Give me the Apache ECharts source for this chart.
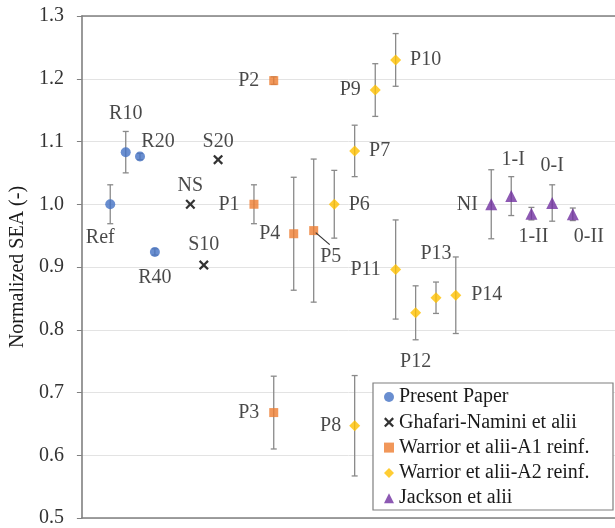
<!DOCTYPE html>
<html>
<head>
<meta charset="utf-8">
<script src="https://cdn.jsdelivr.net/npm/echarts@6/dist/echarts.min.js"></script>
<style>
html,body{margin:0;padding:0;background:#fff;}
#chart{width:615px;height:528px;}
</style>
</head>
<body>
<div id="chart"></div>
<script>
// ---- data ----
const yTicks = [0.5, 0.6, 0.7, 0.8, 0.9, 1.0, 1.1, 1.2, 1.3];

const presentNames = ['Ref', 'R10', 'R20', 'R40'];
const presentX = [1.39, 2.15, 2.85, 3.58];
const presentY = [1.000, 1.083, 1.076, 0.924];
const presentErr = [0.031, 0.033, 0.005, 0.005];

const ghafariNames = ['NS', 'S10', 'S20'];
const ghafariX = [5.32, 5.98, 6.68];
const ghafariY = [1.000, 0.903, 1.071];

const a1Names = ['P1', 'P2', 'P3', 'P4', 'P5'];
const a1X = [8.44, 9.41, 9.41, 10.39, 11.37];
const a1Y = [1.000, 1.197, 0.668, 0.953, 0.958];
const a1Err = [0.031, 0.006, 0.058, 0.090, 0.114];

const a2Names = ['P6', 'P7', 'P8', 'P9', 'P10', 'P11', 'P12', 'P13', 'P14'];
const a2X = [12.38, 13.38, 13.38, 14.39, 15.39, 15.39, 16.37, 17.37, 18.34];
const a2Y = [1.000, 1.085, 0.647, 1.182, 1.230, 0.896, 0.827, 0.851, 0.855];
const a2Err = [0.054, 0.041, 0.080, 0.042, 0.042, 0.079, 0.043, 0.025, 0.061];

const jacksonNames = ['NI', '1-I', '1-II', '0-I', '0-II'];
const jacksonX = [20.08, 21.06, 22.05, 23.07, 24.08];
const jacksonY = [1.000, 1.013, 0.985, 1.002, 0.984];
const jacksonErr = [0.055, 0.031, 0.010, 0.029, 0.010];

const seriesNames = ['Present Paper', 'Ghafari-Namini et alii', 'Warrior et alii-A1 reinf.', 'Warrior et alii-A2 reinf.', 'Jackson et alii'];
const yAxisTitle = 'Normalized SEA (-)';

// ---- layout / style (kept apart from data) ----
const labelOffsets = {
  'Ref': [-10, 33], 'R10': [0, -38], 'R20': [18, -15], 'R40': [0, 26],
  'NS': [0, -19], 'S10': [0, -20], 'S20': [0, -18],
  'P1': [-25, 0], 'P2': [-25, 0], 'P3': [-25, 0], 'P4': [-24, 0], 'P5': [17, 26],
  'P6': [25, 0], 'P7': [25, 0], 'P8': [-24, 0], 'P9': [-25, 0], 'P10': [30, 0],
  'P11': [-30, 0], 'P12': [0, 49], 'P13': [0, -44], 'P14': [31, 0],
  'NI': [-24, 0], '1-I': [2, -36], '1-II': [2, 23], '0-I': [0, -37], '0-II': [16, 22]
};
const FONT = '"Liberation Serif", "Times New Roman", serif';
const TXT = '#1a1a1a';
const FS = 20;
const crossPath = 'path://M0,1.6 L1.6,0 L5,3.4 L8.4,0 L10,1.6 L6.6,5 L10,8.4 L8.4,10 L5,6.6 L1.6,10 L0,8.4 L3.4,5 Z';

function points(names, xs, ys) {
  return names.map((n, i) => ({
    name: n,
    value: [xs[i], ys[i]],
    label: { offset: labelOffsets[n] || [0, 0] }
  }));
}
function errs(xs, ys, es) {
  return xs.map((x, i) => [x, ys[i], es[i]]);
}
const errData = [].concat(
  errs(presentX, presentY, presentErr),
  errs(a1X, a1Y, a1Err),
  errs(a2X, a2Y, a2Err),
  errs(jacksonX, jacksonY, jacksonErr)
);

const labelStyle = {
  show: true, position: 'inside', formatter: '{b}',
  fontFamily: FONT, fontSize: FS, color: TXT, align: 'center', verticalAlign: 'middle'
};

const chart = echarts.init(document.getElementById('chart'), null, { renderer: 'canvas' });
const legendBox = { type: 'rect', z: 3, shape: { x: 373, y: 383, width: 240, height: 127 },
  style: { fill: '#ffffff', stroke: '#7f7f7f', lineWidth: 1.2 } };
const option = {
  animation: false,
  backgroundColor: '#ffffff',
  grid: { left: 79, right: 0, top: 16, bottom: 9 },
  xAxis: [
    { type: 'value', min: 0, max: 26.15, position: 'bottom',
      axisLine: { show: true, lineStyle: { color: '#808080', width: 1.6 } },
      axisTick: { show: false }, axisLabel: { show: false }, splitLine: { show: false } },
    { type: 'value', min: 0, max: 26.15, position: 'top',
      axisLine: { show: true, lineStyle: { color: '#808080', width: 1.6 } },
      axisTick: { show: false }, axisLabel: { show: false }, splitLine: { show: false } }
  ],
  yAxis: {
    type: 'value', min: yTicks[0], max: yTicks[yTicks.length - 1], interval: 0.1,
    name: yAxisTitle, nameLocation: 'middle', nameGap: 52,
    nameTextStyle: { fontFamily: FONT, fontSize: FS, color: TXT },
    axisLine: { show: true, lineStyle: { color: '#808080', width: 1.6 } },
    axisTick: { show: true, length: 5, lineStyle: { color: '#808080' } },
    axisLabel: { margin: 18, fontFamily: FONT, fontSize: FS, color: '#333',
      formatter: v => v.toFixed(1) },
    splitLine: { show: true, lineStyle: { color: '#e3e3e3', width: 1 } }
  },
  legend: {
    orient: 'vertical', left: 384, top: 387, padding: 0,
    itemWidth: 10, itemHeight: 10, itemGap: 5.3,
    textStyle: { fontFamily: FONT, fontSize: FS, color: TXT, lineHeight: 20 },
    data: [
      { name: seriesNames[0], icon: 'circle' },
      { name: seriesNames[1], icon: crossPath },
      { name: seriesNames[2], icon: 'rect' },
      { name: seriesNames[3], icon: 'diamond' },
      { name: seriesNames[4], icon: 'triangle' }
    ]
  },
  graphic: [legendBox],
  series: [
    {
      type: 'custom', name: 'errors', z: 1, silent: true,
      data: errData,
      renderItem: function (params, api) {
        const x = api.value(0), y = api.value(1), e = api.value(2);
        const t = api.coord([x, y + e]);
        const b = api.coord([x, y - e]);
        const c = 3;
        const st = { stroke: '#8a8a8a', lineWidth: 1.3 };
        return { type: 'group', children: [
          { type: 'line', shape: { x1: t[0], y1: t[1], x2: b[0], y2: b[1] }, style: st },
          { type: 'line', shape: { x1: t[0] - c, y1: t[1], x2: t[0] + c, y2: t[1] }, style: st },
          { type: 'line', shape: { x1: b[0] - c, y1: b[1], x2: b[0] + c, y2: b[1] }, style: st }
        ] };
      }
    },
    { type: 'scatter', name: seriesNames[0], z: 5, symbol: 'circle', symbolSize: 10,
      itemStyle: { color: '#4472C4' }, label: labelStyle,
      data: points(presentNames, presentX, presentY) },
    { type: 'scatter', name: seriesNames[1], z: 5, symbol: crossPath, symbolSize: 10,
      itemStyle: { color: '#000000' }, label: labelStyle,
      data: points(ghafariNames, ghafariX, ghafariY) },
    { type: 'scatter', name: seriesNames[2], z: 5, symbol: 'rect', symbolSize: 9,
      itemStyle: { color: '#ED7D31' }, label: labelStyle,
      data: points(a1Names, a1X, a1Y) },
    { type: 'scatter', name: seriesNames[3], z: 5, symbol: 'diamond', symbolSize: 11,
      itemStyle: { color: '#FFC000' }, label: labelStyle,
      data: points(a2Names, a2X, a2Y) },
    { type: 'scatter', name: seriesNames[4], z: 5, symbol: 'triangle', symbolSize: 12,
      itemStyle: { color: '#7030A0' }, label: labelStyle,
      data: points(jacksonNames, jacksonX, jacksonY) }
  ]
};
chart.setOption(option);

// leader line for P5 label, anchored via the chart's own coordinate conversion
const p5i = a1Names.indexOf('P5');
const p5 = chart.convertToPixel({ gridIndex: 0 }, [a1X[p5i], a1Y[p5i]]);
chart.setOption({
  graphic: [
    legendBox,
    { type: 'line', z: 6, shape: { x1: p5[0] + 2, y1: p5[1] + 2, x2: p5[0] + 16, y2: p5[1] + 14 },
      style: { stroke: '#333333', lineWidth: 1.2 } }
  ]
});
</script>
</body>
</html>
